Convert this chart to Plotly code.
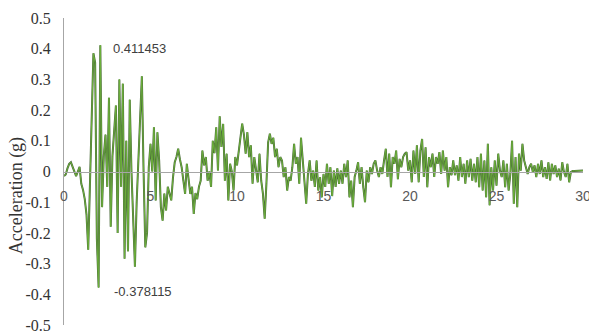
import plotly.graph_objects as go

# Ground-motion record: acceleration (g) sampled every 0.1 s from 0 to 30 s
dt_s = 0.1
accel_g = [
    # 0.0 - 5.0 s
    -0.015, -0.01, 0.01, 0.025, 0.03, 0.015, 0.005, -0.015, 0.0, 0.015,
    -0.04, -0.06, -0.09, -0.14, -0.255, -0.05, 0.2, 0.385, 0.355, -0.22,
    -0.378115, 0.411453, -0.116, 0.05, 0.12, -0.05, 0.24, -0.18, 0.05, 0.13,
    0.215, -0.2, 0.30, -0.05, 0.286, -0.284, 0.1, -0.26, 0.234, 0.0,
    -0.15, -0.31, -0.1, 0.05, 0.15, 0.31, 0.0, -0.247, -0.2, 0.014,
    0.09,
    # 5.1 - 10.2 s
    0.0, 0.144, -0.094, 0.128, 0.036, -0.116, -0.16, -0.072, -0.127, -0.05,
    -0.07, -0.094, -0.02, 0.03, 0.047, 0.074, 0.04, 0.014, -0.03, -0.073,
    0.025, -0.018, -0.073, -0.05, -0.138, -0.07, -0.09, -0.05, -0.03, 0.068,
    0.02, 0.047, -0.03, 0.0, -0.05, 0.1, 0.06, 0.144, 0.003, 0.18,
    0.08, 0.155, -0.03, 0.058, -0.094, 0.025, 0.0, -0.062, 0.047, 0.02,
    0.068, 0.1,
    # 10.3 - 15.9 s
    0.156, 0.12, 0.058, 0.128, 0.047, 0.085, -0.04, 0.047, 0.0, -0.035,
    0.058, -0.03, -0.073, -0.154, -0.04, 0.095, 0.123, 0.09, 0.11, 0.047,
    0.074, 0.014, 0.047, 0.036, -0.018, 0.014, -0.062, -0.018, -0.03, 0.014,
    0.09, 0.025, 0.047, -0.04, 0.11, 0.036, -0.062, -0.105, -0.008, 0.036,
    -0.03, 0.003, -0.05, 0.036, -0.062, -0.018, -0.084, -0.008, -0.05, 0.025,
    -0.04, 0.014, -0.08, 0.003, -0.05, 0.01, -0.04,
    # 16.0 - 21.2 s
    0.003, -0.04, 0.025, -0.018, 0.036, -0.084, -0.03, -0.116, -0.018, 0.003,
    0.03, -0.04, 0.014, -0.051, -0.1, 0.003, -0.035, 0.014, -0.008, 0.025,
    0.036, 0.003, -0.018, 0.014, -0.008, 0.036, 0.074, -0.018, 0.058, -0.051,
    0.047, 0.025, 0.068, -0.025, 0.041, 0.014, 0.047, 0.058, 0.063, 0.003,
    0.036, -0.035, 0.068, -0.008, 0.085, -0.035, 0.068, 0.106, -0.018, 0.079,
    -0.051, 0.047, 0.014,
    # 21.3 - 26.9 s
    0.058, -0.018, 0.047, 0.025, 0.063, -0.008, 0.068, 0.003, 0.047, -0.051,
    0.014, -0.012, 0.036, -0.012, 0.02, -0.03, 0.047, -0.018, 0.025, -0.04,
    0.036, -0.018, 0.041, -0.03, 0.025, -0.035, 0.047, -0.051, 0.058, -0.062,
    0.036, -0.084, 0.09, -0.11, 0.014, -0.062, 0.036, -0.046, 0.058, 0.003,
    -0.018, 0.036, -0.051, 0.025, -0.062, -0.008, 0.1, -0.105, 0.047, -0.116,
    0.058, 0.003, 0.09, 0.036, 0.014, -0.008, 0.014,
    # 27.0 - 29.2 s
    0.025, -0.002, 0.02, -0.018, 0.025, -0.008, 0.036, -0.018, 0.014, -0.024,
    0.03, -0.029, 0.025, -0.008, 0.02, -0.018, 0.009, -0.029, 0.03, -0.002,
    -0.018, 0.025, -0.035,
    # 29.3 - 30.0 s
    -0.002, 0.002, 0.002, 0.002, 0.002, 0.003, 0.003, 0.003,
]
time_s = [round(i * dt_s, 1) for i in range(len(accel_g))]

x_ticks = [0, 5, 10, 15, 20, 25, 30]
x_tick_labels = ["0", "5", "10", "15", "20", "25", "30"]
y_ticks = [0.5, 0.4, 0.3, 0.2, 0.1, 0, -0.1, -0.2, -0.3, -0.4, -0.5]
y_tick_labels = ["0.5", "0.4", "0.3", "0.2", "0.1", "0",
                 "-0.1", "-0.2", "-0.3", "-0.4", "-0.5"]

peak_value = max(accel_g)
trough_value = min(accel_g)
peak_time = time_s[accel_g.index(peak_value)]
trough_time = time_s[accel_g.index(trough_value)]

fig = go.Figure()
# dark underlay gives the trace its shaded edge
fig.add_trace(go.Scatter(x=time_s, y=accel_g, mode="lines",
                         line=dict(color="#4a6a3a", width=2.0),
                         hoverinfo="skip", showlegend=False))
fig.add_trace(go.Scatter(x=time_s, y=accel_g, mode="lines",
                         line=dict(color="#6cb03a", width=1.0),
                         showlegend=False))

fig.add_annotation(x=peak_time, y=peak_value, text=f"{peak_value:g}",
                   showarrow=False, xanchor="left", yanchor="middle",
                   xshift=11, yshift=-3,
                   font=dict(family="Liberation Sans", size=13, color="#404040"))
fig.add_annotation(x=trough_time, y=trough_value, text=f"{trough_value:g}",
                   showarrow=False, xanchor="left", yanchor="middle",
                   xshift=13, yshift=-4,
                   font=dict(family="Liberation Sans", size=13, color="#404040"))

fig.add_annotation(xref="paper", yref="paper", x=-0.092, y=0.42,
                   text="Acceleration (g)", textangle=-90, showarrow=False,
                   xanchor="center", yanchor="middle",
                   font=dict(family="Liberation Serif", size=18, color="#333333"))

fig.update_layout(
    width=589, height=335,
    margin=dict(l=64, r=6, t=18, b=10, autoexpand=False),
    paper_bgcolor="white", plot_bgcolor="white",
    xaxis=dict(range=[0, 30], tickvals=x_ticks, ticktext=x_tick_labels,
               anchor="free", position=0.5, showline=True,
               linecolor="#a6a6a6", linewidth=1, showgrid=False,
               zeroline=False, ticks="", ticklabelstandoff=12,
               ticklabeloverflow="allow", automargin=False,
               tickfont=dict(family="Liberation Sans", size=14, color="#595959")),
    yaxis=dict(range=[-0.5, 0.5], tickvals=y_ticks, ticktext=y_tick_labels,
               showline=True, linecolor="#a6a6a6", linewidth=1,
               showgrid=False, zeroline=False, ticks="", ticklabelstandoff=9,
               automargin=False,
               tickfont=dict(family="Liberation Serif", size=16, color="#333333")),
)

fig.write_html("out.html")
